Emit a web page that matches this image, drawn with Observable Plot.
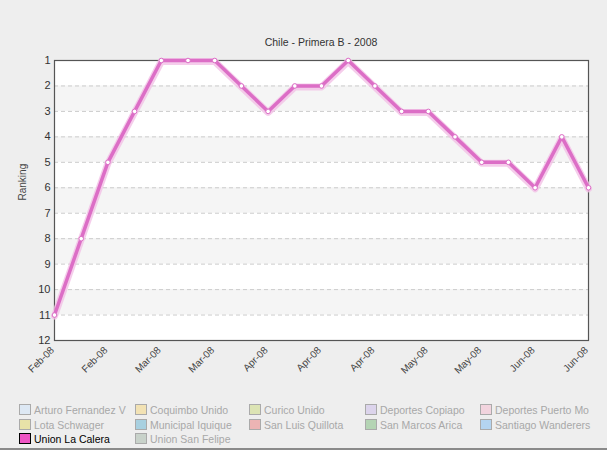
<!DOCTYPE html>
<html><head><meta charset="utf-8">
<script src="https://cdn.jsdelivr.net/npm/d3@7"></script>
<script src="https://cdn.jsdelivr.net/npm/@observablehq/plot@0.6"></script>
<style>
body{margin:0;background:#eeeeee;font-family:"Liberation Sans",Arial,sans-serif;}
#wrap{position:relative;width:607px;height:450px;overflow:hidden;background:#eeeeee;border-bottom:2px solid #8a8a8a;box-sizing:border-box;}
#title{position:absolute;left:54px;top:36px;width:534px;text-align:center;font-size:10.5px;color:#333;}
#chart{position:absolute;left:0;top:50px;}
#legend{position:absolute;left:19px;top:404px;width:590px;}
.item{position:absolute;font-size:10.5px;color:#a8a8a8;white-space:nowrap;height:14px;line-height:13px;}
.sw{display:inline-block;width:10px;height:9px;border:1px solid #aaa;vertical-align:-1px;margin-right:3px;}
</style></head>
<body><div id="wrap">
<div id="title">Chile - Primera B - 2008</div>
<div id="chart"></div>
<div id="legend"></div>
</div>
<script>
const ranks = [11, 8, 5, 3, 1, 1, 1, 2, 3, 2, 2, 1, 2, 3, 3, 4, 5, 5, 6, 4, 6];
const tickLabels = ["Feb-08","Feb-08","Mar-08","Mar-08","Apr-08","Apr-08","Apr-08","May-08","May-08","Jun-08","Jun-08"];
const yTicks = [1,2,3,4,5,6,7,8,9,10,11,12];
const bandStarts = [2,4,6,8,10];
const teams = ["Arturo Fernandez V","Coquimbo Unido","Curico Unido","Deportes Copiapo","Deportes Puerto Mo",
  "Lota Schwager","Municipal Iquique","San Luis Quillota","San Marcos Arica","Santiago Wanderers",
  "Union La Calera","Union San Felipe"];
const teamColors = ["#dde8f4","#f2e2b4","#dce4b4","#dcd4ec","#f2d4de","#e8e2a8","#a8d0e0","#ecb4b4","#b4d4b4","#b4d4f0","#ee55c4","#c8d2ca"];
const activeTeam = "Union La Calera";

const data = ranks.map((r, i) => ({i, r}));
const tickIdx = tickLabels.map((_, k) => k * 2);

const chart = Plot.plot({
  width: 607, height: 350,
  marginLeft: 54, marginRight: 19, marginTop: 10, marginBottom: 60,
  style: {fontFamily: "'Liberation Sans', Arial, sans-serif", fontSize: "11px", color: "#333", background: "transparent"},
  x: {type: "linear", domain: [0, ranks.length - 1], ticks: tickIdx, tickFormat: d => tickLabels[d / 2], label: null},
  y: {domain: [1, 12], reverse: true, ticks: yTicks, label: null},
  marks: [
    Plot.frame({fill: "white", stroke: null}),
    Plot.rect(bandStarts, {y1: d => d, y2: d => d + 1, fill: "#f5f5f5"}),
    Plot.gridY(yTicks, {stroke: "#cccccc", strokeOpacity: 1, strokeDasharray: "4,3"}),
    Plot.frame({stroke: "#555", strokeWidth: 1.2}),
    Plot.line(data, {x: "i", y: "r", stroke: "#f2c0e6", strokeWidth: 7, strokeOpacity: 0.8, dy: 1}),
    Plot.line(data, {x: "i", y: "r", stroke: "#dc6ec6", strokeWidth: 3.5}),
    Plot.dot(data, {x: "i", y: "r", r: 2.3, fill: "white", stroke: "#dc6ec6", strokeWidth: 1}),
    Plot.axisY(yTicks, {tickSize: 0, tickPadding: 4, fontSize: 11, fill: "#333"}),
    Plot.axisX(tickIdx, {tickSize: 0, tickPadding: 8, dx: -2, tickRotate: -45, tickFormat: d => tickLabels[d / 2], fontSize: 10, fill: "#444"}),
    Plot.text(["Ranking"], {frameAnchor: "left", dx: -32, rotate: -90, fontSize: 10, fill: "#444"})
  ]
});
document.getElementById("chart").appendChild(chart);

const colX = [0, 116, 230, 346, 461];
const leg = document.getElementById("legend");
teams.forEach((t, k) => {
  const c = k % 5, row = Math.floor(k / 5);
  const d = document.createElement("div");
  d.className = "item";
  d.style.left = colX[c] + "px";
  d.style.top = (row * 14.5) + "px";
  const active = t === activeTeam;
  d.innerHTML = `<span class="sw" style="background:${teamColors[k]};border-color:${active ? "#000" : "#aaa"}"></span>${t}`;
  if (active) d.style.color = "#000";
  leg.appendChild(d);
});
</script>
</body></html>
